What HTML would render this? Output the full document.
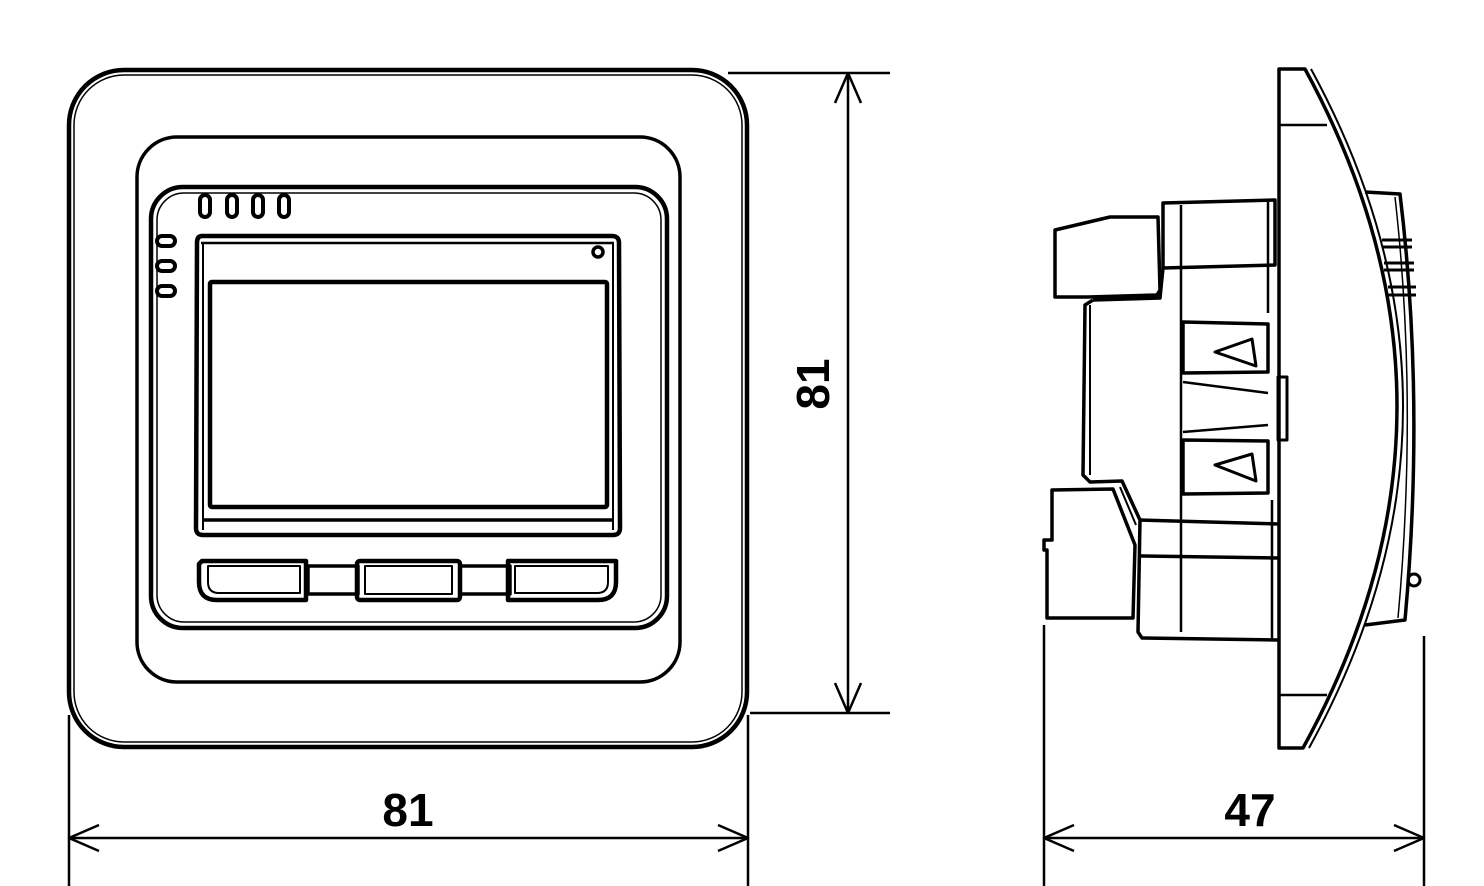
<!DOCTYPE html>
<html><head><meta charset="utf-8"><style>
html,body{margin:0;padding:0;background:#fff;width:1484px;height:886px;overflow:hidden}
svg{display:block}
text{font-family:"Liberation Sans",sans-serif;font-weight:bold;fill:#000}
</style></head><body>
<svg width="1484" height="886" viewBox="0 0 1484 886" xmlns="http://www.w3.org/2000/svg" fill="none" stroke="#000" stroke-linejoin="round">
<!-- FRONT VIEW -->
<rect x="69" y="70" width="678" height="677" rx="55" stroke-width="4.5"/>
<rect x="74" y="75" width="668" height="667" rx="50" stroke-width="1.5"/>
<rect x="137" y="137" width="543" height="545" rx="40" stroke-width="3.5"/>
<rect x="151" y="187" width="516" height="441" rx="32" stroke-width="4.5"/>
<rect x="157" y="193" width="504" height="429" rx="27" stroke-width="1.5"/>
<!-- top tabs -->
<g stroke-width="4">
<rect x="200" y="195" width="10" height="22" rx="5" fill="#fff"/>
<rect x="227" y="195" width="10" height="22" rx="5" fill="#fff"/>
<rect x="253" y="195" width="10" height="22" rx="5" fill="#fff"/>
<rect x="279" y="195" width="10" height="22" rx="5" fill="#fff"/>
<rect x="157" y="236" width="18" height="10" rx="5" fill="#fff"/>
<rect x="157" y="261" width="18" height="10" rx="5" fill="#fff"/>
<rect x="157" y="286" width="18" height="10" rx="5" fill="#fff"/>
</g>
<!-- display bezel -->
<path d="M202,236 L612,236 Q619,236 619,243 L620,528 Q620,535 613,535 L203,535 Q196,535 196,528 L197,243 Q197,236 202,236 Z" stroke-width="4.5"/>
<line x1="201" y1="243" x2="614" y2="243" stroke-width="2.5"/>
<line x1="203" y1="520" x2="614" y2="520" stroke-width="3.5"/>
<line x1="203" y1="243" x2="203" y2="530" stroke-width="2"/>
<line x1="613" y1="243" x2="613" y2="530" stroke-width="2"/>
<rect x="210" y="282" width="397" height="225" rx="2" stroke-width="4.5"/>
<circle cx="598" cy="252" r="5" stroke-width="3.5"/>
<!-- buttons -->
<g stroke-width="4.5">
<rect x="308" y="566" width="50" height="28" stroke-width="3.5"/>
<rect x="460" y="566" width="50" height="28" stroke-width="3.5"/>
<path d="M202,561 L306,561 L306,600 L217,600 Q199,600 199,582 L199,564 Z"/>
<path d="M208,566 L300,566 L300,593 L219,593 Q208,593 208,582 Z" stroke-width="2"/>
<rect x="357" y="561" width="103" height="39" rx="3"/>
<rect x="365" y="566" width="87" height="28" stroke-width="2"/>
<path d="M508,561 L616,561 L616,582 Q616,600 598,600 L508,600 Z"/>
<path d="M515,566 L608,566 L608,582 Q608,593 597,593 L515,593 Z" stroke-width="2"/>
</g>
<!-- Dimensions -->
<g stroke-width="2.5">
<line x1="69" y1="715" x2="69" y2="886"/>
<line x1="748" y1="715" x2="748" y2="886"/>
<line x1="69" y1="838" x2="748" y2="838"/>
<polyline points="99,825 69,838 99,851"/>
<polyline points="718,825 748,838 718,851"/>
<line x1="728" y1="73" x2="890" y2="73"/>
<line x1="750" y1="713" x2="890" y2="713"/>
<line x1="848" y1="73" x2="848" y2="713"/>
<polyline points="835,103 848,73 861,103"/>
<polyline points="835,683 848,713 861,683"/>
<line x1="1044" y1="625" x2="1044" y2="886"/>
<line x1="1424" y1="636" x2="1424" y2="886"/>
<line x1="1044" y1="838" x2="1424" y2="838"/>
<polyline points="1074,825 1044,838 1074,851"/>
<polyline points="1394,825 1424,838 1394,851"/>
</g>
<g stroke="none">
<text x="408" y="826" font-size="46" text-anchor="middle">81</text>
<text x="1250" y="826" font-size="46" text-anchor="middle">47</text>
<text x="0" y="0" font-size="46" text-anchor="middle" transform="translate(829,384) rotate(-90)">81</text>
</g>
<!-- SIDE VIEW -->
<g stroke-width="3.5">
<path d="M1279,69 L1305,69 Q1490,408 1303,748 L1279,748 Z" fill="#fff"/>
<path d="M1311,69 Q1496,408 1309,748" stroke-width="2"/>
<line x1="1279" y1="125" x2="1327" y2="125" stroke-width="2.5"/>
<line x1="1279" y1="695" x2="1327" y2="695" stroke-width="2.5"/>
<path d="M1365,192 L1400,194 Q1425,400 1405,620 L1365,625" stroke-width="3.5"/>
<path d="M1395,197 Q1418,400 1398,618" stroke-width="1.5"/>
<circle cx="1414" cy="580" r="6" stroke-width="3"/>
<g stroke-width="3">
<line x1="1382" y1="240" x2="1412" y2="240"/><line x1="1382" y1="247" x2="1412" y2="247"/>
<line x1="1384" y1="263" x2="1414" y2="263"/><line x1="1384" y1="270" x2="1414" y2="270"/>
<line x1="1388" y1="287" x2="1416" y2="287"/><line x1="1388" y1="295" x2="1416" y2="295"/>
</g>
<path d="M1163,203 L1275,200 L1275,265 L1163,268 Z"/>
<line x1="1181" y1="205" x2="1181" y2="632" stroke-width="2.5"/>
<line x1="1268" y1="202" x2="1268" y2="313" stroke-width="2.5"/>
<path d="M1055,230 L1110,217 L1158,217 L1160,290 L1157,295 L1088,297 L1063,297 L1055,297 Z"/>
<path d="M1093,300 L1160,298 L1163,268 M1093,300 L1085,305 L1083,475 L1090,482 L1122,481 L1140,520 L1138,632 L1142,638 L1278,640" />
<line x1="1090" y1="305" x2="1090" y2="475" stroke-width="2"/>
<line x1="1140" y1="520" x2="1278" y2="524"/>
<line x1="1140" y1="556" x2="1278" y2="558"/>
<line x1="1120" y1="487" x2="1136" y2="525" stroke-width="2"/>
<path d="M1052,490 L1113,489 L1135,545 L1133,618 L1047,618 L1047,550 L1044,550 L1044,540 L1052,540 Z"/>
<path d="M1183,322 L1268,324 L1268,372 L1183,373 Z"/>
<path d="M1215,352 L1252,339 L1256,366 Z" stroke-width="3"/>
<path d="M1183,440 L1268,441 L1268,493 L1183,494 Z"/>
<path d="M1215,465 L1252,454 L1256,481 Z" stroke-width="3"/>
<path d="M1183,382 L1268,393 M1183,432 L1268,425" stroke-width="2.5"/>
<rect x="1278" y="377" width="9" height="63" stroke-width="3"/>
<line x1="1272" y1="500" x2="1272" y2="640" stroke-width="2.5"/>
</g>
</svg>
</body></html>
